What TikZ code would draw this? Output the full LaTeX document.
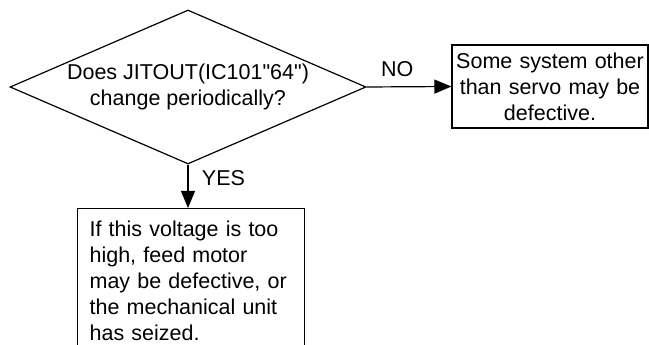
\documentclass[tikz,border=0pt]{standalone}
\usepackage{fontspec}
\setmainfont{Liberation Sans}[Ligatures=TeXOff]
\usetikzlibrary{shapes.geometric,arrows.meta,positioning}
\begin{document}
\begin{tikzpicture}[x=1pt, y=1pt, line width=1.2pt,
    font=\fontsize{21.5}{26}\selectfont,
    freccia/.style={-{Triangle[length=17pt,width=14pt]}},
    scatola/.style={draw, rectangle}]
  \clip (0,0) rectangle (649,345);
  % Rombo
  \node[draw, diamond, aspect=2.3, inner sep=0pt, minimum width=356pt, minimum height=154pt, align=center] (domanda) at (188,258) {Does JITOUT(IC101"64")\\change periodically?};
  % Risposta NO
  \node[scatola, inner sep=0pt, minimum width=196pt, minimum height=83pt, text width=196pt, align=center] (altro) at (550,258.5) {Some system other\\than servo may be\\defective.};
  % Risposta YES
  \node[scatola, anchor=north west, inner sep=12pt, text width=203pt, align=left] (guasto) at (77,137) {If this voltage is too\\high, feed motor\\may be defective, or\\the mechanical unit\\has seized.};
  % Frecce
  \draw[freccia] (domanda.east) -- node[pos=0.36, above=6pt] {NO} (altro.west);
  \draw[freccia] (domanda.south) -- node[pos=0.31, right=10pt] {YES} (domanda.south |- guasto.north);
\end{tikzpicture}
\end{document}
